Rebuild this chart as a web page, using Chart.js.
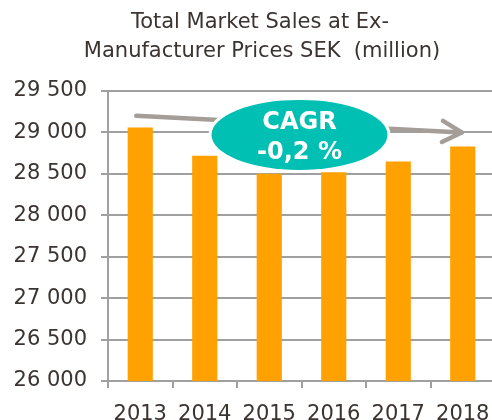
<!DOCTYPE html>
<html>
<head>
<meta charset="utf-8">
<script src="https://cdn.jsdelivr.net/npm/chart.js@4.4.1/dist/chart.umd.min.js"></script>
<style>
  html, body { margin: 0; padding: 0; background: #fff; overflow: hidden; }
  #wrap { width: 495px; height: 420px; }
</style>
</head>
<body>
<div id="wrap"><canvas id="salesChart"></canvas></div>
<script>
// data
const years = ['2013', '2014', '2015', '2016', '2017', '2018'];
const sales = [29060, 28720, 28500, 28520, 28650, 28830];
const yTickLabels = ['26 000', '26 500', '27 000', '27 500', '28 000', '28 500', '29 000', '29 500'];
const titleLines = ['Total Market Sales at Ex-', 'Manufacturer Prices SEK  (million)'];
const cagrLines = ['CAGR', '-0,2 %'];

const textColor = '#3b3431';
const gridColor = '#a0a0a0';

// title + CAGR bubble with arrow
const extras = {
  id: 'extras',
  afterDatasetsDraw(chart) {
    const ctx = chart.ctx;
    const x = chart.scales.x, y = chart.scales.y;
    ctx.save();

    // title
    ctx.fillStyle = textColor;
    ctx.font = '21px "DejaVu Sans", Verdana, sans-serif';
    ctx.textAlign = 'center';
    ctx.textBaseline = 'alphabetic';
    ctx.fillText(titleLines[0], 260, 28);
    ctx.fillText(titleLines[1], 262, 57);

    // arrow
    const x0 = x.getPixelForValue(0) - 4, y0 = y.getPixelForValue(29200);
    const x1 = x.getPixelForValue(5) - 1, y1 = y.getPixelForValue(29000);
    ctx.strokeStyle = '#a59d97';
    ctx.lineWidth = 4.5;
    ctx.lineCap = 'round';
    ctx.lineJoin = 'round';
    ctx.beginPath();
    ctx.moveTo(x0, y0);
    ctx.lineTo(x1, y1);
    ctx.stroke();
    const ang = Math.atan2(y1 - y0, x1 - x0);
    ctx.beginPath();
    ctx.moveTo(x1 + 22 * Math.cos(ang + Math.PI - 0.5), y1 + 22 * Math.sin(ang + Math.PI - 0.5));
    ctx.lineTo(x1, y1);
    ctx.lineTo(x1 + 22 * Math.cos(ang + Math.PI + 0.5), y1 + 22 * Math.sin(ang + Math.PI + 0.5));
    ctx.stroke();

    // bubble
    const cx = (x.getPixelForValue(2) + x.getPixelForValue(3)) / 2 - 2;
    const cy = y.getPixelForValue(28970);
    ctx.beginPath();
    ctx.ellipse(cx, cy, 88, 35, 0, 0, Math.PI * 2);
    ctx.fillStyle = '#00bfb3';
    ctx.strokeStyle = '#ffffff';
    ctx.lineWidth = 6;
    ctx.stroke();
    ctx.fill();

    ctx.fillStyle = '#ffffff';
    ctx.font = 'bold 24px "DejaVu Sans", Verdana, sans-serif';
    ctx.textBaseline = 'alphabetic';
    ctx.fillText(cagrLines[0], cx, cy - 6);
    ctx.fillText(cagrLines[1], cx, cy + 24);
    ctx.restore();
  }
};

new Chart(document.getElementById('salesChart'), {
  type: 'bar',
  data: {
    labels: years,
    datasets: [{
      data: sales,
      backgroundColor: '#ffa100',
      barPercentage: 0.39,
      categoryPercentage: 1
    }]
  },
  options: {
    responsive: true,
    maintainAspectRatio: false,
    animation: false,
    layout: { padding: { top: 91, right: 0, bottom: 0, left: 0 } },
    plugins: { legend: { display: false }, tooltip: { enabled: false } },
    scales: {
      x: {
        grid: { display: true, drawOnChartArea: false, offset: true, color: gridColor, lineWidth: 2, tickLength: 7 },
        border: { color: gridColor, width: 2 },
        ticks: {
          color: textColor,
          font: { family: '"DejaVu Sans", Verdana, sans-serif', size: 21 },
          padding: 14,
          maxRotation: 0
        },
        afterFit(scale) {
          scale.height = 39;
          // let the plot run to the right edge, last label may overflow
          scale.paddingLeft = 0;
          scale.paddingRight = 0;
        }
      },
      y: {
        min: 26000,
        max: 29500,
        grid: { color: gridColor, lineWidth: 2, tickLength: 7 },
        border: { color: gridColor, width: 2 },
        ticks: {
          stepSize: 500,
          color: textColor,
          padding: 14,
          font: { family: '"DejaVu Sans", Verdana, sans-serif', size: 21 },
          callback: (v, i) => yTickLabels[i]
        },
        afterFit(scale) { scale.width = 108; }
      }
    }
  },
  plugins: [extras]
});
</script>
</body>
</html>
